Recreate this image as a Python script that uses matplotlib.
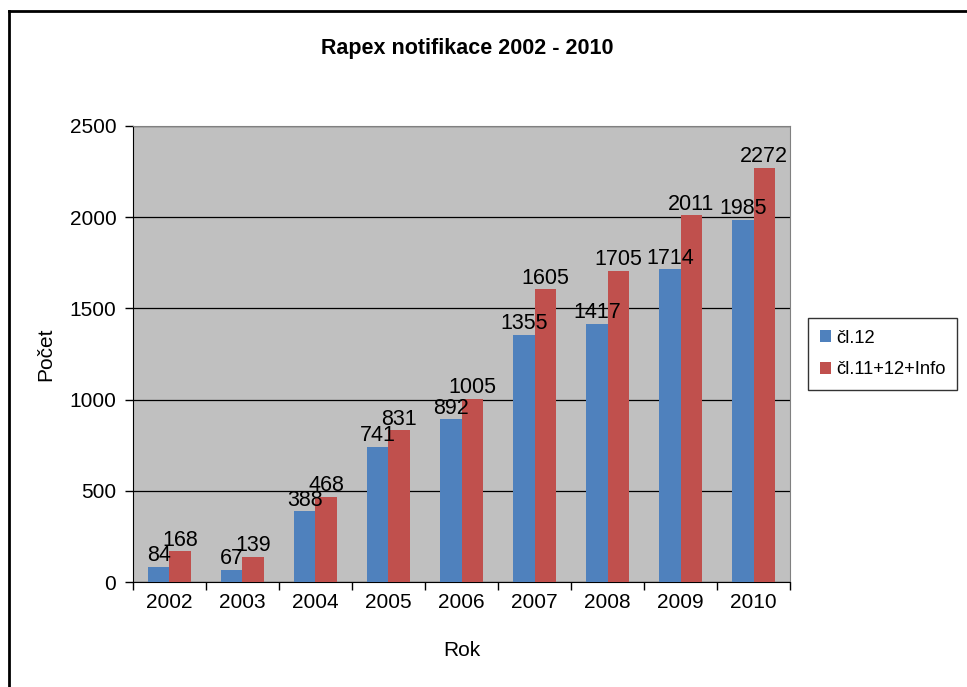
import matplotlib.pyplot as plt
import numpy as np
from matplotlib.lines import Line2D

plt.rcParams['font.family'] = ['Liberation Sans', 'DejaVu Sans']

roky = ["2002", "2003", "2004", "2005", "2006", "2007", "2008", "2009", "2010"]
cl12 = [84, 67, 388, 741, 892, 1355, 1417, 1714, 1985]
cl11_12_info = [168, 139, 468, 831, 1005, 1605, 1705, 2011, 2272]
nazvy = ["čl.12", "čl.11+12+Info"]
barvy = ["#4F81BD", "#C0504D"]

fig = plt.figure(figsize=(9.67, 6.87), dpi=100)
ax = fig.add_axes([0.1375, 0.1528, 0.6795, 0.6638])

x = np.arange(len(roky))
w = 0.29
serie = [cl12, cl11_12_info]
for i, (hodnoty, nazev, barva) in enumerate(zip(serie, nazvy, barvy)):
    pos = x + (i - 0.5) * w
    ax.bar(pos, hodnoty, width=w, color=barva, label=nazev, zorder=3)
    for px, h in zip(pos, hodnoty):
        ax.annotate(str(h), (px, h), xytext=(0, 0.5), textcoords="offset points",
                    ha="center", va="bottom", fontsize=15.5, zorder=4)

ax.set_facecolor("#C0C0C0")
ax.set_xlim(-0.5, len(roky) - 0.5)
ax.set_ylim(0, 2500)
ax.set_yticks(range(0, 2501, 500))
ax.yaxis.grid(True, color="black", linewidth=0.9, zorder=1)
ax.set_axisbelow(True)

ax.set_xticks(x)
ax.set_xticklabels(roky, fontsize=15)
ax.set_xticks(np.arange(-0.5, len(roky)), minor=True)
ax.tick_params(axis="x", which="major", length=0, pad=8)
ax.tick_params(axis="x", which="minor", length=6, width=1, color="black")
ax.tick_params(axis="y", labelsize=15, length=6, width=1, pad=6)

for s in ["top", "right"]:
    ax.spines[s].set_color("#808080")
for s in ["left", "bottom"]:
    ax.spines[s].set_color("black")

ax.set_xlabel("Rok", fontsize=15, labelpad=21)
ax.set_ylabel("Počet", fontsize=15, labelpad=10)

fig.text(0.483, 0.929, "Rapex notifikace 2002 - 2010", ha="center", va="center",
         fontsize=15.5, fontweight="bold")

leg = ax.legend(loc="center left", bbox_to_anchor=(1.028, 0.5), fontsize=13.2,
                frameon=True, fancybox=False, edgecolor="black", borderpad=0.65,
                labelspacing=0.8, handlelength=0.6, handleheight=0.6,
                handletextpad=0.25, borderaxespad=0)
leg.get_frame().set_linewidth(1)

# outer frame (left and top edges visible)
fig.add_artist(Line2D([0.009, 0.009], [0.0, 0.984], transform=fig.transFigure,
                      color="black", linewidth=2))
fig.add_artist(Line2D([0.009, 1.0], [0.984, 0.984], transform=fig.transFigure,
                      color="black", linewidth=2))

fig.savefig("out.png", dpi=100)
